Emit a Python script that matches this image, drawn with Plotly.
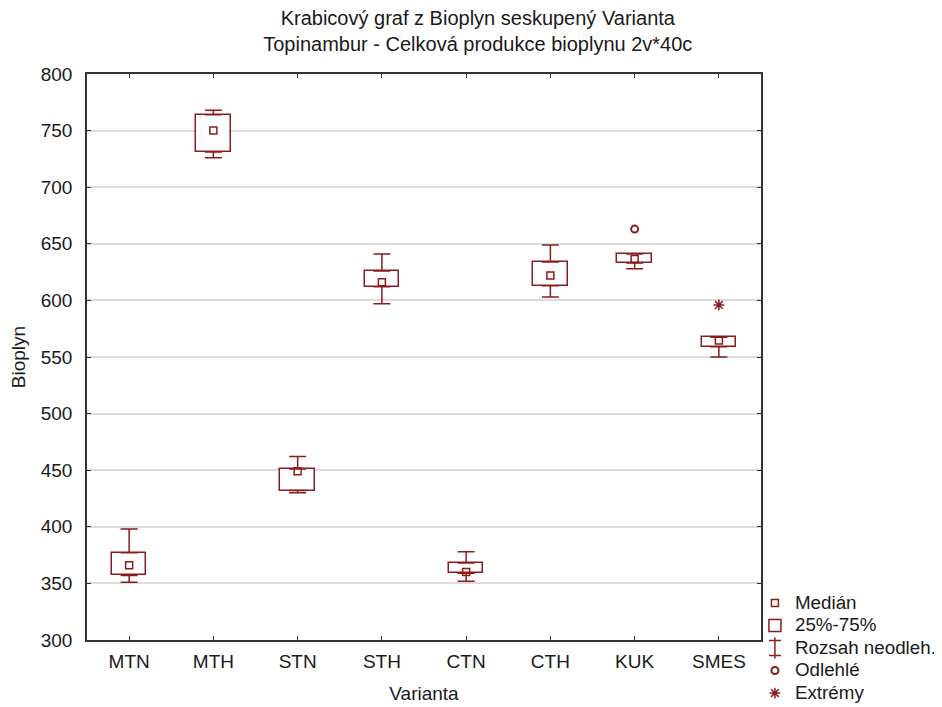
import plotly.graph_objects as go

categories = ["MTN", "MTH", "STN", "STH", "CTN", "CTH", "KUK", "SMES"]
lower_whisker = [351, 726, 430, 597, 352, 603, 628, 550]
q1 = [357, 731, 432, 612, 359, 613, 633, 559]
median = [366, 750, 449, 616, 360, 622, 636.5, 564.5]
q3 = [377, 764, 451, 626, 368, 634, 641, 567.5]
upper_whisker = [398, 768, 462, 641, 378, 649, 641, 567.5]
outlier_cat = ["KUK"]
outlier_val = [663]
extreme_cat = ["SMES"]
extreme_val = [596]

RED = "#8b1c1c"
FONT = "Liberation Sans, Arial, sans-serif"


def big(t):
    return '<span style="font-size:18.8px">' + t + "</span>"


fig = go.Figure()

# Boxes (25%-75%)
fig.add_trace(go.Bar(
    x=categories, y=[b - a for a, b in zip(q1, q3)], base=q1, width=0.41,
    marker=dict(color="white", line=dict(color=RED, width=1.5)),
    name=big("25%-75%"), showlegend=True, legendrank=2, hoverinfo="skip",
))

# Upper whiskers
fig.add_trace(go.Scatter(
    x=categories, y=q3, mode="markers",
    marker=dict(size=1, color="rgba(0,0,0,0)"),
    error_y=dict(type="data", symmetric=False,
                 array=[u - q for u, q in zip(upper_whisker, q3)],
                 arrayminus=[0] * len(q3), color=RED, thickness=1.5, width=8.5),
    showlegend=False, hoverinfo="skip",
))
# Lower whiskers
fig.add_trace(go.Scatter(
    x=categories, y=q1, mode="markers",
    marker=dict(size=1, color="rgba(0,0,0,0)"),
    error_y=dict(type="data", symmetric=False,
                 array=[0] * len(q1),
                 arrayminus=[q - l for q, l in zip(q1, lower_whisker)],
                 color=RED, thickness=1.5, width=8.5),
    showlegend=False, hoverinfo="skip",
))

# Median
fig.add_trace(go.Scatter(
    x=categories, y=median, mode="markers",
    marker=dict(symbol="square-open", size=7, color=RED, line=dict(width=1.5)),
    name=big("Medián"), legendrank=1, hoverinfo="skip",
))

# Legend entry for whisker range
fig.add_trace(go.Scatter(
    x=[None], y=[None], mode="markers",
    marker=dict(symbol="line-ns-open", size=15, color=RED, line=dict(width=1.5, color=RED)),
    name=big("Rozsah neodleh."), legendrank=3,
))

# Outliers
fig.add_trace(go.Scatter(
    x=outlier_cat, y=outlier_val, mode="markers",
    marker=dict(symbol="circle-open", size=7, color=RED, line=dict(width=2)),
    name=big("Odlehlé"), legendrank=4, hoverinfo="skip",
))
# Extremes
fig.add_trace(go.Scatter(
    x=extreme_cat, y=extreme_val, mode="markers",
    marker=dict(symbol="asterisk-open", size=9, color=RED, line=dict(width=1.5, color=RED)),
    name=big("Extrémy"), legendrank=5, hoverinfo="skip",
))

# caps of the whisker glyph in the legend
for yc in (-0.0009, -0.0274):
    fig.add_shape(type="line", xref="paper", yref="paper",
                  x0=1.0119, x1=1.0297, y0=yc, y1=yc,
                  line=dict(color=RED, width=1.5))

fig.update_layout(
    width=934, height=699,
    margin=dict(l=79, r=181, t=66, b=67, autoexpand=False),
    paper_bgcolor="white", plot_bgcolor="white",
    font=dict(family=FONT, size=19, color="#1a1a1a"),
    title=dict(
        text="Krabicový graf z Bioplyn seskupený Varianta<br>Topinambur - Celková produkce bioplynu 2v*40c",
        x=0.503, xref="container", xanchor="center", y=0.975, yanchor="top",
        font=dict(family=FONT, size=20, color="#1a1a1a"),
    ),
    legend=dict(
        x=0.991, xanchor="left", y=0.094, yanchor="top",
        font=dict(size=15, color="#1a1a1a"), bgcolor="rgba(0,0,0,0)",
        tracegroupgap=0, itemsizing="trace", traceorder="normal",
    ),
    showlegend=True,
    bargap=0,
)

fig.update_xaxes(
    type="category", range=[-0.5, 7.5],
    showline=True, linecolor="#333", linewidth=1.5, mirror="ticks",
    ticks="inside", ticklen=4, tickcolor="#333",
    showgrid=False, zeroline=False, ticklabelstandoff=3,
    title=dict(text="Varianta", font=dict(size=19), standoff=16),
)
fig.update_yaxes(
    range=[300, 800], dtick=50,
    showline=True, linecolor="#333", linewidth=1.5, mirror="ticks",
    ticks="inside", ticklen=4, tickcolor="#333",
    showgrid=True, gridcolor="#dcdcdc", gridwidth=1.5, zeroline=False,
    ticklabelstandoff=9,
    title=dict(text="Bioplyn", font=dict(size=19), standoff=10),
)

fig.write_html("out.html")
